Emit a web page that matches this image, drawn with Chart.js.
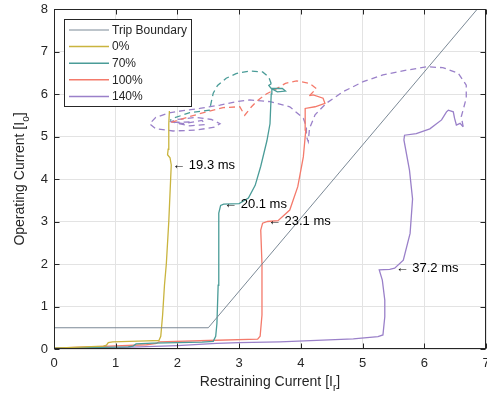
<!DOCTYPE html>
<html>
<head>
<meta charset="utf-8">
<script src="https://cdn.jsdelivr.net/npm/chart.js@4.4.0/dist/chart.umd.min.js"></script>
<style>
html, body { margin: 0; padding: 0; background: #fff; }
</style>
</head>
<body>
<canvas id="chart" width="487" height="399"></canvas>
<script>
// series names and colours
const seriesNames = ['Trip Boundary', '0%', '70%', '100%', '140%'];
const seriesColors = ['#7b8996', '#c9b43e', '#4a9c98', '#f47a6b', '#9a80c9'];

// [Ir, Io] points
const tripBoundary = [[0, 0.5], [2.5, 0.5], [7, 8.24]];

const load0 = [[0, 0.02], [0.5, 0.05], [0.8, 0.07], [0.85, 0.09], [0.88, 0.15], [0.95, 0.17], [1.5, 0.19],
  [1.7, 0.2], [1.73, 0.3], [1.76, 0.8], [1.79, 1.5], [1.82, 2.0], [1.86, 3.0], [1.89, 4.0], [1.9, 4.33],
  [1.88, 4.5], [1.84, 4.57], [1.85, 4.7], [1.86, 5.0], [1.86, 5.3], [1.87, 5.6]];

const load70 = [[0, 0.02], [0.6, 0.03], [1.2, 0.05], [1.28, 0.07], [1.33, 0.12], [1.6, 0.14], [2.4, 0.16],
  [2.58, 0.18], [2.62, 0.3], [2.64, 0.6], [2.66, 1.5], [2.67, 2.5], [2.67, 3.2], [2.7, 3.38], [2.75, 3.41],
  [3.0, 3.42], [3.15, 3.55], [3.26, 3.85], [3.35, 4.3], [3.45, 4.9], [3.5, 5.3], [3.52, 6.0], [3.53, 6.13],
  [3.7, 6.13], [3.75, 6.07], [3.62, 6.05], [3.52, 6.13], [3.48, 6.2], [3.52, 6.24]];
const load70After = [[3.52, 6.24], [3.48, 6.4], [3.38, 6.52], [3.17, 6.54], [2.95, 6.48], [2.79, 6.37],
  [2.65, 6.2], [2.58, 6.02], [2.52, 5.62], [2.2, 5.56], [1.93, 5.43], [1.88, 5.38]];

const load100 = [[0, 0.02], [0.8, 0.06], [1.5, 0.1], [1.66, 0.13], [1.7, 0.17], [2.5, 0.2], [3.3, 0.23],
  [3.34, 0.3], [3.37, 0.8], [3.37, 2.0], [3.35, 2.8], [3.38, 2.96], [3.46, 3.0], [3.63, 3.02], [3.82, 3.27],
  [3.95, 3.82], [4.04, 4.52], [4.08, 5.15], [4.07, 5.66], [4.23, 5.7], [4.39, 5.78], [4.36, 5.9],
  [4.2, 5.98], [4.14, 5.96]];
const load100After = [[4.14, 5.96], [4.25, 6.13], [4.14, 6.25], [3.93, 6.31], [3.75, 6.25], [3.6, 6.12],
  [3.44, 6.0], [3.3, 5.85], [3.2, 5.7], [3.09, 5.5], [3.01, 5.7], [2.74, 5.68], [2.47, 5.58], [2.2, 5.47],
  [2.0, 5.38], [1.9, 5.33]];

const load140 = [[0, 0], [1, 0.03], [2, 0.08], [2.63, 0.13], [3.0, 0.15], [3.66, 0.17], [4.85, 0.24],
  [5.25, 0.29], [5.33, 0.33], [5.36, 0.76], [5.36, 1.15], [5.32, 1.62], [5.27, 1.86], [5.44, 1.875],
  [5.52, 1.9], [5.66, 2.09], [5.77, 2.72], [5.81, 3.53], [5.76, 4.21], [5.67, 4.92], [5.68, 5.03],
  [5.87, 5.07], [6.09, 5.18], [6.28, 5.39], [6.36, 5.58], [6.39, 5.62], [6.47, 5.58], [6.49, 5.43],
  [6.52, 5.27], [6.58, 5.31], [6.63, 5.23]];
const load140After = [[6.63, 5.23], [6.6, 5.47], [6.68, 5.9], [6.68, 6.21], [6.55, 6.49], [6.3, 6.62],
  [6.04, 6.64], [5.71, 6.56], [5.33, 6.45], [5.01, 6.29], [4.68, 6.05], [4.41, 5.78], [4.23, 5.51],
  [4.14, 5.19], [4.12, 4.88], [4.09, 5.0], [4.09, 5.23], [4.04, 5.43], [3.82, 5.7], [3.5, 5.82],
  [3.17, 5.86], [2.96, 5.82], [2.69, 5.74], [2.36, 5.66], [2.09, 5.61], [1.85, 5.55], [1.65, 5.45],
  [1.55, 5.3], [1.65, 5.18], [1.93, 5.13], [2.3, 5.15], [2.6, 5.22], [2.69, 5.3], [2.55, 5.4], [2.3, 5.45],
  [2.0, 5.4], [1.9, 5.35], [2.1, 5.3], [2.4, 5.38], [2.45, 5.28], [2.2, 5.25], [1.95, 5.33], [2.25, 5.35]];

// trip time notes
const tripTimes = ['19.3 ms', '20.1 ms', '23.1 ms', '37.2 ms'];
const tripAt = [[1.9, 4.33], [2.74, 3.41], [3.45, 3.0], [5.52, 1.9]];

const FONT = '"Liberation Sans", Arial, Helvetica, sans-serif';
const INK = '#262626';

function pts(arr) {
    return arr.map(p => ({ x: p[0], y: p[1] }));
}

function line(data, color, dashed, width) {
    return {
        data: pts(data),
        borderColor: color,
        borderWidth: width || 1.3,
        borderDash: dashed ? [6, 4] : [],
        showLine: true,
        pointRadius: 0,
        fill: false,
        tension: 0
    };
}

const decorations = {
    id: 'decorations',
    afterDraw(chart) {
        const { ctx, chartArea: a, scales } = chart;
        const xs = scales.x, ys = scales.y;
        const L = Math.round(a.left) + 0.5, R = Math.round(a.right) - 0.5;
        const T = Math.round(a.top) + 0.5, B = Math.round(a.bottom) - 0.5;
        ctx.save();

        // axes box + inward ticks
        ctx.strokeStyle = INK;
        ctx.lineWidth = 1;
        ctx.strokeRect(L, T, R - L, B - T);
        ctx.beginPath();
        for (let i = 0; i <= 7; i++) {
            const px = Math.round(xs.getPixelForValue(i)) + 0.5;
            ctx.moveTo(px, B); ctx.lineTo(px, B - 5);
            ctx.moveTo(px, T); ctx.lineTo(px, T + 5);
        }
        for (let j = 0; j <= 8; j++) {
            const py = Math.round(ys.getPixelForValue(j)) + 0.5;
            ctx.moveTo(L, py); ctx.lineTo(L + 5, py);
            ctx.moveTo(R, py); ctx.lineTo(R - 5, py);
        }
        ctx.stroke();

        // trip time notes
        ctx.fillStyle = '#000';
        ctx.font = '13px ' + FONT;
        ctx.textBaseline = 'middle';
        ctx.textAlign = 'left';
        tripTimes.forEach((t, i) => {
            const px = xs.getPixelForValue(tripAt[i][0]);
            const py = ys.getPixelForValue(tripAt[i][1]);
            ctx.fillText('\u2190 ' + t, px + 1, py);
        });

        // legend
        const lx = 64.5, ly = 19.5, lw = 127, lh = 87;
        ctx.fillStyle = '#fff';
        ctx.fillRect(lx, ly, lw, lh);
        ctx.strokeStyle = INK;
        ctx.lineWidth = 1;
        ctx.strokeRect(lx, ly, lw, lh);
        ctx.font = '12px ' + FONT;
        seriesNames.forEach((name, i) => {
            const ry = 30 + i * 16.6;
            ctx.strokeStyle = seriesColors[i];
            ctx.lineWidth = i === 0 ? 1 : 1.5;
            ctx.beginPath();
            ctx.moveTo(69, ry); ctx.lineTo(109, ry);
            ctx.stroke();
            ctx.fillStyle = INK;
            ctx.fillText(name, 112, ry + 0.5);
        });

        // axis titles with subscripts
        ctx.fillStyle = INK;
        drawTitle(ctx, 'Restraining Current [I', 'r', ']', (a.left + a.right) / 2, 382);
        ctx.translate(20, (a.top + a.bottom) / 2);
        ctx.rotate(-Math.PI / 2);
        drawTitle(ctx, 'Operating Current [I', 'o', ']', 0, 0);
        ctx.restore();
    }
};

function drawTitle(ctx, main, sub, tail, cx, cy) {
    ctx.textBaseline = 'middle';
    ctx.textAlign = 'left';
    ctx.font = '14px ' + FONT;
    const w1 = ctx.measureText(main).width;
    const w3 = ctx.measureText(tail).width;
    ctx.font = '10px ' + FONT;
    const w2 = ctx.measureText(sub).width;
    let x0 = cx - (w1 + w2 + w3) / 2;
    ctx.font = '14px ' + FONT;
    ctx.fillText(main, x0, cy);
    ctx.font = '10px ' + FONT;
    ctx.fillText(sub, x0 + w1, cy + 6);
    ctx.font = '14px ' + FONT;
    ctx.fillText(tail, x0 + w1 + w2, cy);
}

new Chart(document.getElementById('chart'), {
    type: 'scatter',
    data: {
        datasets: [
            line(tripBoundary, seriesColors[0], false, 1),
            line(load0, seriesColors[1], false),
            line(load70, seriesColors[2], false),
            line(load70After, seriesColors[2], true),
            line(load100, seriesColors[3], false),
            line(load100After, seriesColors[3], true),
            line(load140, seriesColors[4], false),
            line(load140After, seriesColors[4], true)
        ]
    },
    options: {
        responsive: false,
        animation: false,
        layout: { padding: { top: 9, right: 1, left: 0, bottom: 0 } },
        plugins: {
            legend: { display: false },
            tooltip: { enabled: false }
        },
        scales: {
            x: {
                type: 'linear',
                min: 0,
                max: 7,
                ticks: { stepSize: 1, color: INK, font: { size: 13, family: FONT }, padding: 7, maxRotation: 0 },
                grid: { color: '#e3e3e3', drawTicks: false },
                border: { display: false },
                afterFit(scale) {
                    scale.height = 50;
                    scale.paddingLeft = 0;
                    scale.paddingRight = 0;
                }
            },
            y: {
                type: 'linear',
                min: 0,
                max: 8,
                ticks: { stepSize: 1, color: INK, font: { size: 13, family: FONT }, padding: 6 },
                grid: { color: '#e3e3e3', drawTicks: false },
                border: { display: false },
                afterFit(scale) {
                    scale.width = 54;
                    scale.paddingTop = 0;
                    scale.paddingBottom = 0;
                }
            }
        }
    },
    plugins: [decorations]
});
</script>
</body>
</html>
